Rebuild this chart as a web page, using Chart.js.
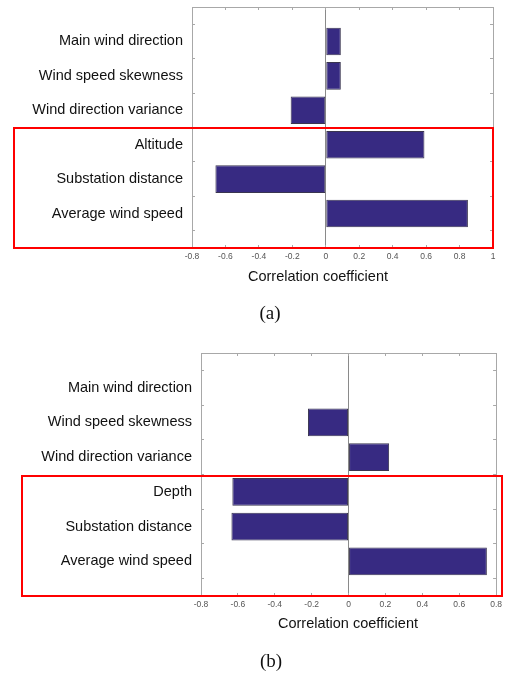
<!DOCTYPE html>
<html>
<head>
<meta charset="utf-8">
<script src="https://cdn.jsdelivr.net/npm/chart.js@4/dist/chart.umd.min.js"></script>
<style>
  body { margin: 0; background: #fff; width: 509px; height: 674px; position: relative; overflow: hidden; font-family: "Liberation Sans", Arial, sans-serif; }
  .box { position: absolute; }
  .frame { position: absolute; border: 2px solid #f00; box-sizing: border-box; }
  .xtitle { position: absolute; font-size: 14.5px; color: #111; transform: translate(-50%, -50%); white-space: nowrap; }
  .caption { position: absolute; font-family: "Liberation Serif", "Times New Roman", serif; font-size: 19px; color: #111; transform: translate(-50%, -50%); }
</style>
</head>
<body>
<div class="box" id="boxA" style="left:0; top:0; width:509px; height:300px;"><canvas id="chartA"></canvas></div>
<div class="box" id="boxB" style="left:0; top:346px; width:509px; height:290px;"><canvas id="chartB"></canvas></div>

<div class="frame" style="left:13px; top:127px; width:481px; height:122px;"></div>
<div class="frame" style="left:21px; top:475px; width:482px; height:122px;"></div>

<div class="xtitle" style="left:318px; top:276px;">Correlation coefficient</div>
<div class="xtitle" style="left:348px; top:623px;">Correlation coefficient</div>
<div class="caption" style="left:270px; top:313px;">(a)</div>
<div class="caption" style="left:271px; top:661px;">(b)</div>

<script>
// categories (top to bottom)
const labelsA = ['Main wind direction', 'Wind speed skewness', 'Wind direction variance', 'Altitude', 'Substation distance', 'Average wind speed'];
const labelsB = ['Main wind direction', 'Wind speed skewness', 'Wind direction variance', 'Depth', 'Substation distance', 'Average wind speed'];

// correlation coefficients
const valuesA = [0.09, 0.09, -0.21, 0.59, -0.66, 0.85];
const valuesB = [0, -0.22, 0.22, -0.63, -0.635, 0.75];

// x axis ranges / ticks
const xRangeA = [-0.8, 1];
const xRangeB = [-0.8, 0.8];
const xStep = 0.2;

const barColor = '#372a82';
const frameColor = '#a8a8a8';

function makeChart(id, labels, values, xRange, geo) {
  // empty slots at both ends give the full-step margin above/below the bars
  const cats = [''].concat(labels, ['']);
  const data = [null].concat(values, [null]);

  const tickFmt = v => {
    const r = Math.round(v * 10) / 10;
    return r === 0 ? '0' : String(r);
  };

  return new Chart(document.getElementById(id), {
    type: 'bar',
    data: {
      labels: cats,
      datasets: [{
        data: data,
        backgroundColor: barColor,
        borderColor: '#3a3550',
        borderWidth: 1,
        borderSkipped: false,
        categoryPercentage: 0.8,
        barPercentage: 1
      }]
    },
    options: {
      indexAxis: 'y',
      responsive: true,
      maintainAspectRatio: false,
      animation: false,
      layout: { padding: { top: geo.top, right: geo.right, left: 0, bottom: 0 } },
      plugins: { legend: { display: false }, tooltip: { enabled: false } },
      scales: {
        x: {
          type: 'linear',
          position: 'bottom',
          min: xRange[0],
          max: xRange[1],
          border: { display: true, color: frameColor, width: 1 },
          grid: {
            drawOnChartArea: true,
            color: ctx => (ctx.tick && Math.abs(ctx.tick.value) < 1e-9 ? '#8a8a8a' : 'rgba(0,0,0,0)'),
            tickColor: frameColor,
            tickLength: -3
          },
          ticks: {
            stepSize: xStep,
            padding: 7,
            color: '#555',
            font: { family: 'Liberation Sans', size: 8.5 },
            callback: tickFmt,
            maxRotation: 0,
            autoSkip: false
          },
          afterFit: s => { s.height = geo.xAxisHeight; }
        },
        xTop: {
          type: 'linear',
          position: 'top',
          min: xRange[0],
          max: xRange[1],
          border: { display: true, color: frameColor, width: 1 },
          grid: { drawOnChartArea: false, tickColor: frameColor, tickLength: -3 },
          ticks: { display: false, stepSize: xStep },
          afterFit: s => { s.height = 0; }
        },
        y: {
          type: 'category',
          position: 'left',
          offset: false,
          border: { display: true, color: frameColor, width: 1 },
          grid: { drawOnChartArea: false, tickColor: frameColor, tickLength: -3 },
          ticks: {
            padding: 12,
            color: '#111',
            font: { family: 'Liberation Sans', size: 14.5 },
            autoSkip: false
          },
          afterFit: s => {
            s.width = geo.yAxisWidth;
            s.paddingTop = 0;
            s.paddingBottom = 0;
          }
        },
        yRight: {
          type: 'category',
          position: 'right',
          offset: false,
          border: { display: true, color: frameColor, width: 1 },
          grid: { drawOnChartArea: false, tickColor: frameColor, tickLength: -3 },
          ticks: { display: false, autoSkip: false },
          afterFit: s => {
            s.width = 0;
            s.paddingTop = 0;
            s.paddingBottom = 0;
          }
        }
      }
    }
  });
}

makeChart('chartA', labelsA, valuesA, xRangeA, { top: 7, right: 16, yAxisWidth: 192, xAxisHeight: 52 });
makeChart('chartB', labelsB, valuesB, xRangeB, { top: 7, right: 7, yAxisWidth: 201, xAxisHeight: 40 });
</script>
</body>
</html>
